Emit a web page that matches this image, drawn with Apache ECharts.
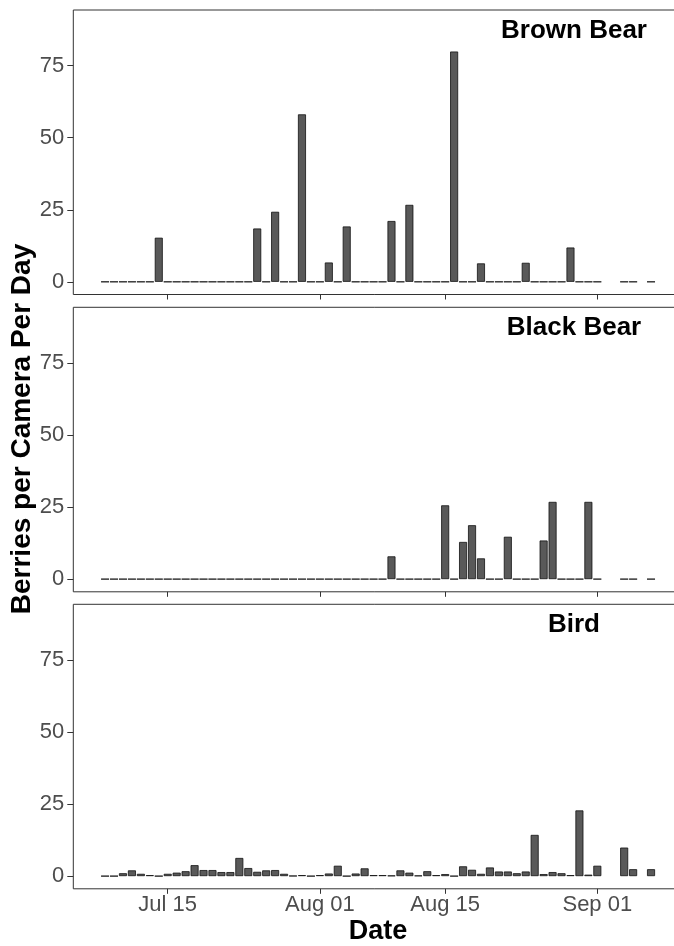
<!DOCTYPE html>
<html>
<head>
<meta charset="utf-8">
<script src="https://cdn.jsdelivr.net/npm/echarts@6/dist/echarts.min.js"></script>
<style>
  html, body { margin: 0; padding: 0; background: #fff; }
  #chart { width: 674px; height: 946px; }
</style>
</head>
<body>
<div id="chart"></div>
<script>
// one bar per day, Jul 08 .. Sep 07 (null = no camera data that day)
const startDay = new Date(2019, 6, 8);
const days = [];
for (let i = 0; i < 62; i++) {
  const d = new Date(startDay.getTime() + i * 86400000);
  days.push(d.toLocaleString('en-US', { month: 'short' }) + ' ' + String(d.getDate()).padStart(2, '0'));
}

const tickLabels = ['Jul 15', 'Aug 01', 'Aug 15', 'Sep 01'];
const yTicks = [0, 25, 50, 75];
const panelNames = ['Brown Bear', 'Black Bear', 'Bird'];

const brownBear = [
  0, 0, 0, 0, 0, 0, 15.3, 0, 0, 0, 0, 0, 0, 0, 0, 0, 0, 18.5, 0, 24.3, 0, 0, 58.1, 0,
  0, 6.7, 0, 19.2, 0, 0, 0, 0, 21.1, 0, 26.7, 0, 0, 0, 0, 79.9, 0, 0, 6.4, 0, 0, 0, 0,
  6.6, 0, 0, 0, 0, 11.9, 0, 0, 0, null, null, 0, 0, null, 0
];
const blackBear = [
  0, 0, 0, 0, 0, 0, 0, 0, 0, 0, 0, 0, 0, 0, 0, 0, 0, 0, 0, 0, 0, 0, 0, 0,
  0, 0, 0, 0, 0, 0, 0, 0, 7.9, 0, 0, 0, 0, 0, 25.6, 0, 12.9, 18.7, 7.2, 0, 0, 14.7, 0,
  0, 0, 13.4, 26.8, 0, 0, 0, 26.8, 0, null, null, 0, 0, null, 0
];
const bird = [
  0, 0, 1.0, 2.0, 0.8, 0.35, 0, 0.8, 1.2, 1.7, 3.8, 2.1, 2.1, 1.4, 1.4, 6.3, 2.8, 1.5, 2.0, 2.1, 0.8, 0.1, 0.35, 0,
  0.35, 0.9, 3.6, 0, 0.9, 2.7, 0.35, 0.35, 0.2, 2.0, 1.2, 0.2, 1.7, 0.35, 0.7, 0, 3.4, 2.2, 0.8, 3.0, 1.6, 1.6, 1.0,
  1.6, 14.3, 0.7, 1.4, 1.0, 0.35, 22.8, 0.5, 3.6, null, null, 9.9, 2.4, null, 2.4
];
const panelData = [brownBear, blackBear, bird];

const font = "'Liberation Sans', Arial, Helvetica, sans-serif";
const tickIdx = tickLabels.map(l => days.indexOf(l));
const panelTops = [10, 307.3, 604.3];
const panelH = 284.5;

const grids = [], xAxes = [], yAxes = [], series = [], texts = [];
panelTops.forEach((top, k) => {
  const last = k === panelTops.length - 1;
  grids.push({
    left: 73.3, top: top, width: 609.5, height: panelH,
    show: true, borderColor: '#333', borderWidth: 1,
    containLabel: false, outerBoundsMode: 'none'
  });
  xAxes.push({
    gridIndex: k, type: 'value', min: -3.55, max: 64.55, position: 'bottom',
    axisLine: { show: false, onZero: false },
    splitLine: { show: false },
    axisTick: { show: true, customValues: tickIdx, length: 5, lineStyle: { color: '#333' } },
    axisLabel: {
      show: last, customValues: tickIdx, margin: 5,
      color: '#4d4d4d', fontSize: 22, fontFamily: font,
      formatter: v => days[Math.round(v)]
    },
    name: last ? 'Date' : '', nameLocation: 'middle', nameGap: 29,
    nameTextStyle: { color: '#000', fontSize: 27, fontWeight: 'bold', fontFamily: font }
  });
  yAxes.push({
    gridIndex: k, type: 'value', min: -4.4, max: 94.3, position: 'left',
    axisLine: { show: false, onZero: false },
    splitLine: { show: false },
    axisTick: { show: true, customValues: yTicks, length: 6, lineStyle: { color: '#333' } },
    axisLabel: { customValues: yTicks, margin: 9, color: '#4d4d4d', fontSize: 22, fontFamily: font }
  });
  series.push({
    type: 'bar', xAxisIndex: k, yAxisIndex: k,
    barWidth: 8,
    data: panelData[k].map((v, i) => [i, v]).filter(p => p[1] !== null),
    itemStyle: { color: '#595959', borderColor: '#111', borderWidth: 0.8 },
    silent: true, animation: false
  });
  texts.push({
    type: 'text', x: 574, y: top + 20.5,
    style: {
      text: panelNames[k], fill: '#000', fontSize: 26, fontWeight: 'bold', fontFamily: font,
      align: 'center', verticalAlign: 'middle'
    }
  });
});

texts.push({
  type: 'text', x: 22.5, y: 429, rotation: Math.PI / 2,
  style: {
    text: 'Berries per Camera Per Day', fill: '#000', fontSize: 28, fontWeight: 'bold', fontFamily: font,
    align: 'center', verticalAlign: 'middle'
  }
});

const chart = echarts.init(document.getElementById('chart'));
chart.setOption({
  animation: false,
  backgroundColor: '#fff',
  grid: grids,
  xAxis: xAxes,
  yAxis: yAxes,
  series: series,
  graphic: { elements: texts }
});
</script>
</body>
</html>
